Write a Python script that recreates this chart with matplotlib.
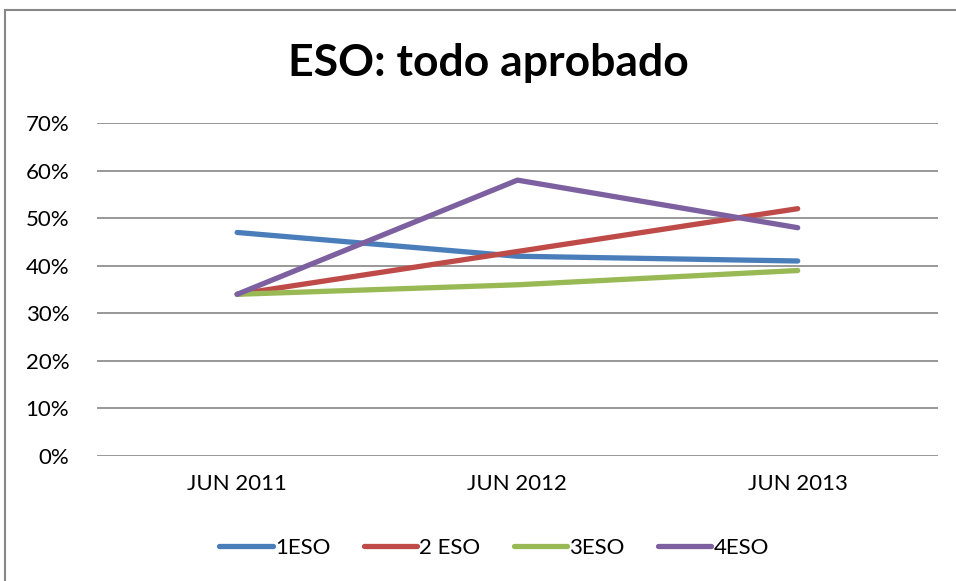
import matplotlib.pyplot as plt
from matplotlib import ticker
from matplotlib.patches import Rectangle

categories = ["JUN 2011", "JUN 2012", "JUN 2013"]
eso1 = [0.47, 0.42, 0.41]
eso2 = [0.34, 0.43, 0.52]
eso3 = [0.34, 0.36, 0.39]
eso4 = [0.34, 0.58, 0.48]

series = [("1ESO", eso1, "#4A7EBB"),
          ("2 ESO", eso2, "#BE4B48"),
          ("3ESO", eso3, "#98B954"),
          ("4ESO", eso4, "#7D60A0")]

plt.rcParams['font.family'] = ['Lato', 'DejaVu Sans']

fig = plt.figure(figsize=(9.56, 5.81), dpi=100)
ax = fig.add_axes([0.1015, 0.2151, 0.8795, 0.5731])

# chart border (cropped at the right and bottom)
fig.patches.append(Rectangle((5 / 956, -0.05), 1.2, 1 - 10 / 581 + 0.05,
                             transform=fig.transFigure, fill=False,
                             edgecolor="#878787", linewidth=1.5))

x = range(len(categories))
for name, vals, color in series:
    ax.plot(x, vals, color=color, linewidth=3.8, label=name,
            solid_capstyle="round", solid_joinstyle="round")

ax.set_xlim(-0.5, 2.5)
ax.set_ylim(0, 0.7)
ax.set_yticks([i / 10 for i in range(8)])
ax.yaxis.set_major_formatter(ticker.PercentFormatter(1.0, decimals=0))
ax.set_xticks(list(x))
ax.set_xticklabels(categories)
ax.tick_params(axis="both", length=0, labelsize=16)
ax.tick_params(axis="y", pad=20)
ax.tick_params(axis="x", pad=13)
ax.grid(axis="y", color="#868686", linewidth=1.2)
ax.set_axisbelow(True)
for s in ax.spines.values():
    s.set_visible(False)

fig.text(488 / 956, 1 - 63 / 581, "ESO: todo aprobado", ha="center", va="center",
         fontsize=32, fontweight="bold")

ax.legend(loc="center", bbox_to_anchor=(494 / 956, 1 - 548 / 581), bbox_transform=fig.transFigure,
          ncol=4, frameon=False, fontsize=16, handlelength=2.4, handletextpad=0.1,
          columnspacing=1.5)

fig.savefig("out.png", dpi=100)
